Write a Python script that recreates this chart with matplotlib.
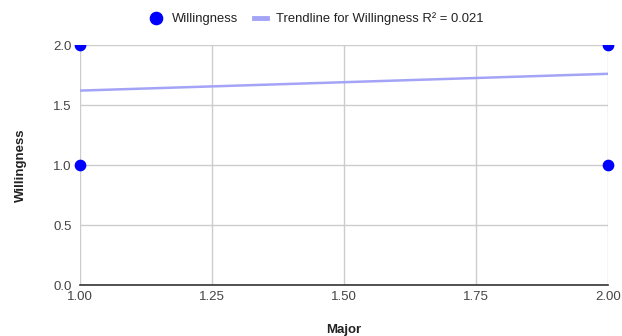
import matplotlib.pyplot as plt
from matplotlib.patches import Rectangle
from matplotlib.lines import Line2D

plt.rcParams["font.family"] = ["Liberation Sans", "DejaVu Sans"]

# -------------------------
# Data
# -------------------------
major = [1, 1, 2, 2]
willingness = [2, 1, 2, 1]

# trendline endpoints
trend_x = [1, 2]
trend_y = [1.62, 1.76]
r_squared = 0.021

x_ticks = [1.00, 1.25, 1.50, 1.75, 2.00]
y_ticks = [0.0, 0.5, 1.0, 1.5, 2.0]

POINT_COLOR = "#0000ff"
TREND_COLOR = "#a4a4f7"
GRID_COLOR = "#cccccc"
TEXT_COLOR = "#444444"

# -------------------------
# Plot
# -------------------------
fig = plt.figure(figsize=(6.22, 3.36), dpi=100)
ax = fig.add_axes([80 / 622, 1 - 285 / 336, 528 / 622, 240 / 336])

ax.set_xlim(1, 2)
ax.set_ylim(0, 2)
ax.set_xticks(x_ticks)
ax.set_yticks(y_ticks)
ax.set_xticklabels([f"{v:.2f}" for v in x_ticks])
ax.set_yticklabels([f"{v:.1f}" for v in y_ticks])
ax.grid(True, color=GRID_COLOR, linewidth=1)
ax.set_axisbelow(True)
for side in ["top", "right", "left"]:
    ax.spines[side].set_visible(False)
ax.spines["bottom"].set_color("#333333")
ax.spines["bottom"].set_linewidth(1.2)
ax.tick_params(length=0, labelsize=9.5, colors=TEXT_COLOR)
ax.tick_params(axis="x", pad=4)
ax.tick_params(axis="y", pad=6)

# clip only vertically, like the original
clip = Rectangle((-0.05, 0), 1.1, 1, transform=ax.transAxes, visible=False)
ax.add_patch(clip)

line, = ax.plot(trend_x, trend_y, color=TREND_COLOR, linewidth=1.8, zorder=2)
pts = ax.scatter(major, willingness, s=55, color=POINT_COLOR, zorder=3)
pts.set_clip_path(clip)
pts.set_clip_on(True)

ax.set_xlabel("Major", fontsize=9.5, fontweight="bold", color="#222222", labelpad=15.5)
ax.set_ylabel("Willingness", fontsize=9.5, fontweight="bold", color="#222222", labelpad=18.5)

handles = [
    Line2D([], [], marker="o", linestyle="none", markersize=8.8, color=POINT_COLOR),
    Line2D([], [], color=TREND_COLOR, linewidth=3.5),
]
labels = ["Willingness", f"Trendline for Willingness R\u00b2 = {r_squared:.3f}"]
fig.legend(handles, labels, loc="center", bbox_to_anchor=(316.5 / 622, 1 - 19 / 336), ncol=2,
           frameon=False, fontsize=9.4, labelcolor="#222222", handlelength=1.0,
           handletextpad=0.69, columnspacing=1.22)

fig.savefig("out.png", dpi=100)
